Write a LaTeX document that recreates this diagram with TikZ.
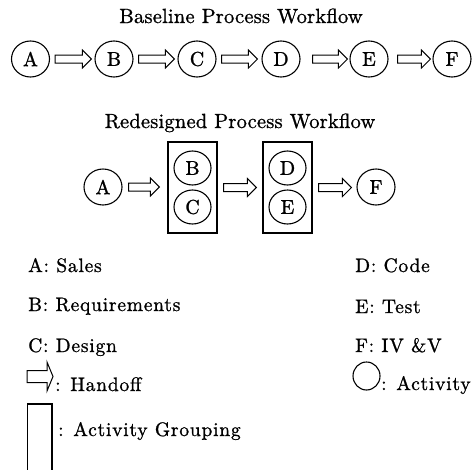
\documentclass[tikz,border=0pt]{standalone}
\usepackage{fontspec}
\setmainfont{lmroman10-regular.otf}
\usetikzlibrary{shapes.geometric,calc}
\newcommand\handoffarrow[4]{%
  \path let \p1=($(#1.east)+(#3,0)$), \p2=($(#2.west)+(-#4,0)$) in
  [handoff] (\x1,\y1+4pt) -- (\x2-9pt,\y1+4pt) -- (\x2-9pt,\y1+9pt) -- (\x2,\y1)
  -- (\x2-9pt,\y1-9pt) -- (\x2-9pt,\y1-4pt) -- (\x1,\y1-4pt) -- cycle;}
\begin{document}
\begin{tikzpicture}[x=1pt,y=-1pt,
  act/.style={draw, ellipse, line width=1.1pt, minimum width=38pt, minimum height=36pt,
    inner sep=0pt, font=\fontsize{20}{22}\selectfont\addfontfeature{FakeBold=1.2}},
  inact/.style={act, minimum width=37pt, minimum height=34pt},
  grp/.style={draw, rectangle, line width=1.3pt, minimum width=49pt, minimum height=91pt, inner sep=0pt},
  handoff/.style={draw, line width=1pt, line join=miter},
  title/.style={font=\fontsize{20.5}{24}\selectfont\addfontfeature{LetterSpace=1,FakeBold=1}, anchor=base, inner sep=0pt},
  leg/.style={font=\fontsize{19.5}{22}\selectfont\addfontfeature{LetterSpace=4,FakeBold=1}, anchor=base west, inner sep=0pt}]
\useasboundingbox (0,0) rectangle (473,469);

% Baseline workflow
\node[title] (t1) at (241,23) {Baseline Process Workflow};
\node[act] (A1) at (30.5,59) {A};
\node[act] (B1) at (114,59) {B};
\node[act] (C1) at (197,59) {C};
\node[act] (D1) at (281,59) {D};
\node[act] (E1) at (369,59) {E};
\node[act] (F1) at (452,59) {F};
\handoffarrow{A1}{B1}{5}{3}
\handoffarrow{B1}{C1}{5}{3}
\handoffarrow{C1}{D1}{5}{4}
\handoffarrow{D1}{E1}{12}{2}
\handoffarrow{E1}{F1}{9}{2}

% Redesigned workflow
\node[title] (t2) at (240,128) {Redesigned Process Workflow};
\node[act] (A2) at (103,187) {A};
\node[grp] (G1) at (192.5,187.5) {};
\node[inact] (B2) at (192.5,168) {B};
\node[inact] (C2) at (192.5,207) {C};
\node[grp] (G2) at (287.5,187.5) {};
\node[inact] (D2) at (287.5,168) {D};
\node[inact] (E2) at (287.5,207) {E};
\node[act] (F2) at (376,187) {F};
\handoffarrow{A2}{G1}{6}{8}
\handoffarrow{G1}{G2}{6}{6}
\handoffarrow{G2}{F2}{6}{5}

% Legend
\node[leg] (la) at (28,272) {A: Sales};
\node[leg] (lb) at (28,311) {B: Requirements};
\node[leg] (lc) at (28,352) {C: Design};
\node[leg] (ld) at (355,272) {D: Code};
\node[leg] (le) at (355,313) {E: Test};
\node[leg] (lf) at (355,352) {F: IV \&V};

\draw[handoff] (27,370.5) -- (47,370.5) -- (47,362) -- (53,376.5) -- (47,391) -- (47,382.5) -- (27,382.5) -- cycle;
\node[leg] (lh) at (55,391) {: Handoff};

\draw[line width=1.1pt] (366.5,376) ellipse [x radius=13.5, y radius=14];
\node[leg] (lact) at (381,390) {: Activity};

\draw[line width=1.3pt] (27.5,470) -- (27.5,404) -- (52,404) -- (52,470);
\node[leg] (lg) at (58,436) {: Activity Grouping};
\end{tikzpicture}
\end{document}
